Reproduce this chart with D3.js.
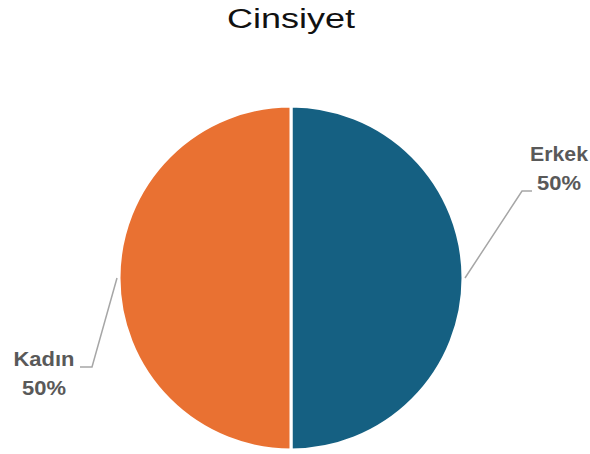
<!DOCTYPE html>
<html>
<head>
<meta charset="utf-8">
<script src="https://cdn.jsdelivr.net/npm/d3@7"></script>
<style>
  html, body { margin: 0; padding: 0; background: #fff; }
  svg { display: block; }
</style>
</head>
<body>
<svg id="chart" width="590" height="454"></svg>
<script>
// Gender split
const categories = ["Erkek", "Kadın"];
const values = [50, 50];
const colors = ["#156082", "#E97132"];
const title = "Cinsiyet";

const W = 590, H = 454;
const cx = 291, cy = 278, radius = 172;

const svg = d3.select("#chart");

// Title
svg.append("text")
  .attr("x", cx).attr("y", 28)
  .attr("text-anchor", "middle")
  .attr("font-family", "Liberation Sans, Arial, sans-serif")
  .attr("font-size", 27)
  .attr("textLength", 128)
  .attr("lengthAdjust", "spacingAndGlyphs")
  .attr("fill", "#111")
  .text(title);

const total = d3.sum(values);
const data = categories.map((c, i) => ({ name: c, value: values[i], color: colors[i] }));

const pie = d3.pie().value(d => d.value).sort(null);
const arcs = pie(data);
const arc = d3.arc().innerRadius(0).outerRadius(radius);
const edge = d3.arc().innerRadius(radius).outerRadius(radius);

const g = svg.append("g").attr("transform", `translate(${cx},${cy})`);

g.selectAll("path.slice")
  .data(arcs)
  .enter().append("path")
  .attr("class", "slice")
  .attr("d", arc)
  .attr("fill", d => d.data.color)
  .attr("stroke", "#fff")
  .attr("stroke-width", 3)
  .attr("stroke-linejoin", "round");

// Label layout: elbow point, tail end and text anchor, relative to the pie centre
const labelLayout = {
  "Erkek": { elbow: [231, -87], tail: [241, -87], text: [268, -117] },
  "Kadın": { elbow: [-199, 89], tail: [-211, 89], text: [-247, 88] }
};

arcs.forEach(a => {
  const L = labelLayout[a.data.name];
  const mid = (a.startAngle + a.endAngle) / 2;
  const start = [Math.sin(mid) * (radius + 2), -Math.cos(mid) * (radius + 2)];
  g.append("polyline")
    .attr("points", [start, L.elbow, L.tail].map(p => p.join(",")).join(" "))
    .attr("fill", "none")
    .attr("stroke", "#a6a6a6")
    .attr("stroke-width", 1.5);

  const pct = Math.round(a.data.value / total * 100) + "%";
  const t = g.append("text")
    .attr("text-anchor", "middle")
    .attr("font-family", "Liberation Sans, Arial, sans-serif")
    .attr("font-weight", "bold")
    .attr("font-size", 19.5)
    .attr("fill", "#595959");
  t.append("tspan")
    .attr("x", L.text[0]).attr("y", L.text[1])
    .attr("textLength", a.data.name === "Erkek" ? 58 : 61)
    .attr("lengthAdjust", "spacingAndGlyphs")
    .text(a.data.name);
  t.append("tspan")
    .attr("x", L.text[0]).attr("y", L.text[1] + 29)
    .attr("textLength", 44)
    .attr("lengthAdjust", "spacingAndGlyphs")
    .text(pct);
});
</script>
</body>
</html>
